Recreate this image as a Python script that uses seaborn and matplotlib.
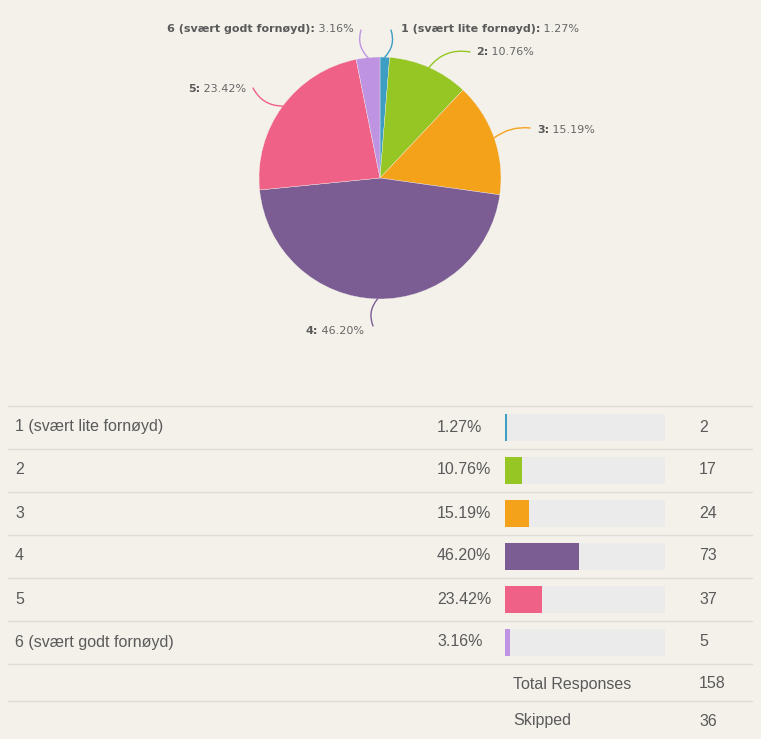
import numpy as np
import matplotlib
matplotlib.use("Agg")
import matplotlib.pyplot as plt
import seaborn as sns
import pandas as pd

# ---- data ----
categories = ["1 (svært lite fornøyd)", "2", "3", "4", "5", "6 (svært godt fornøyd)"]
pie_labels = ["1 (svært lite fornøyd)", "2", "3", "4", "5", "6 (svært godt fornøyd)"]
percentages = [1.27, 10.76, 15.19, 46.20, 23.42, 3.16]
pct_text = ["1.27%", "10.76%", "15.19%", "46.20%", "23.42%", "3.16%"]
counts = [2, 17, 24, 73, 37, 5]
total_responses = 158
skipped = 36
colors = ["#3d9dc3", "#95c623", "#f5a21b", "#7b5d93", "#ef6186", "#be94e2"]

BG = "#f3f1ea"
TXT = "#5a5a5a"
W, H = 761, 739

sns.set_theme(style="white")
plt.rcParams["font.family"] = ["DejaVu Sans"]

fig = plt.figure(figsize=(W / 100, H / 100), dpi=100, facecolor=BG)

# full-figure axes in pixel-like coordinates (y up)
ax = fig.add_axes([0, 0, 1, 1])
ax.set_facecolor(BG)

def Y(ypx):
    return H - ypx

wedges, _ = ax.pie(percentages, colors=colors, startangle=90, counterclock=False,
                   center=(380, Y(178)), radius=121,
                   wedgeprops=dict(linewidth=0.25, edgecolor=BG))
ax.set_xlim(0, W)
ax.set_ylim(0, H)
ax.axis("off")

# leader labels: (label start x, label y, line end x, line end y, rad)
label_pos = [
    (401, 29, 391, 30, -0.3),
    (476, 52, 470, 52, 0.3),
    (537, 130, 530, 128, 0.2),
    (306, 331, 373, 326, -0.3),
    (188, 89, 253, 88, 0.3),
    (167, 29, 361, 30, 0.3),
]

fig.canvas.draw()
renderer = fig.canvas.get_renderer()
for w, lab, pct, col, (lx, ly, ex, ey, rad) in zip(wedges, pie_labels, pct_text, colors, label_pos):
    mid = np.deg2rad((w.theta1 + w.theta2) / 2)
    cx, cy = w.center
    px_ = cx + w.r * np.cos(mid)
    py_ = cy + w.r * np.sin(mid)
    ax.annotate("", xy=(px_, py_), xytext=(ex, Y(ey)),
                arrowprops=dict(arrowstyle="-", color=col, lw=1.0,
                                connectionstyle=f"arc3,rad={rad}",
                                shrinkA=0, shrinkB=0))
    t1 = ax.text(lx, Y(ly), lab + ":", fontsize=8.0, fontweight="bold",
                 color=TXT, ha="left", va="center")
    bb = t1.get_window_extent(renderer=renderer)
    x2 = ax.transData.inverted().transform((bb.x1, 0))[0]
    ax.text(x2, Y(ly), " " + pct, fontsize=8.0, color="#666666",
            ha="left", va="center")

# ---- table ----
table_font = ["Liberation Sans", "DejaVu Sans"]
line_y = [406, 449, 492, 535, 578, 621, 664, 701]
for ly in line_y:
    ax.plot([8, 752], [Y(ly), Y(ly)], color="#dedcd6", lw=1.0)

row_y = [427, 470, 513, 556, 599, 642]
for ry, cat, pt, cnt in zip(row_y, categories, pct_text, counts):
    ax.text(15, Y(ry), cat, fontsize=11.5, color=TXT, ha="left", va="center", family=table_font)
    ax.text(437, Y(ry), pt, fontsize=11.5, color=TXT, ha="left", va="center", family=table_font)
    ax.text(699, Y(ry), str(cnt), fontsize=11.5, color=TXT, ha="left", va="center", family=table_font)

ax.text(513, Y(684), "Total Responses", fontsize=11.5, color=TXT, ha="left", va="center", family=table_font)
ax.text(699, Y(684), str(total_responses), fontsize=11.5, color=TXT, ha="left", va="center", family=table_font)
ax.text(513, Y(721), "Skipped", fontsize=11.5, color=TXT, ha="left", va="center", family=table_font)
ax.text(699, Y(721), str(skipped), fontsize=11.5, color=TXT, ha="left", va="center", family=table_font)

# ---- bars ----
bax = fig.add_axes([505 / W, (H - 664) / H, 160 / W, 258 / H])
bax.set_facecolor("none")
df = pd.DataFrame({"cat": categories, "pct": percentages, "full": [100] * len(categories)})
sns.barplot(data=df, x="full", y="cat", color="#ebebeb", width=0.65, ax=bax,
            saturation=1, linewidth=0)
sns.barplot(data=df, x="pct", y="cat", hue="cat", palette=colors, width=0.65,
            ax=bax, legend=False, saturation=1, linewidth=0)
bax.set_xlim(0, 100)
bax.set_ylim(5.5, -0.5)
bax.axis("off")

fig.savefig("out.png", dpi=100, facecolor=BG)
